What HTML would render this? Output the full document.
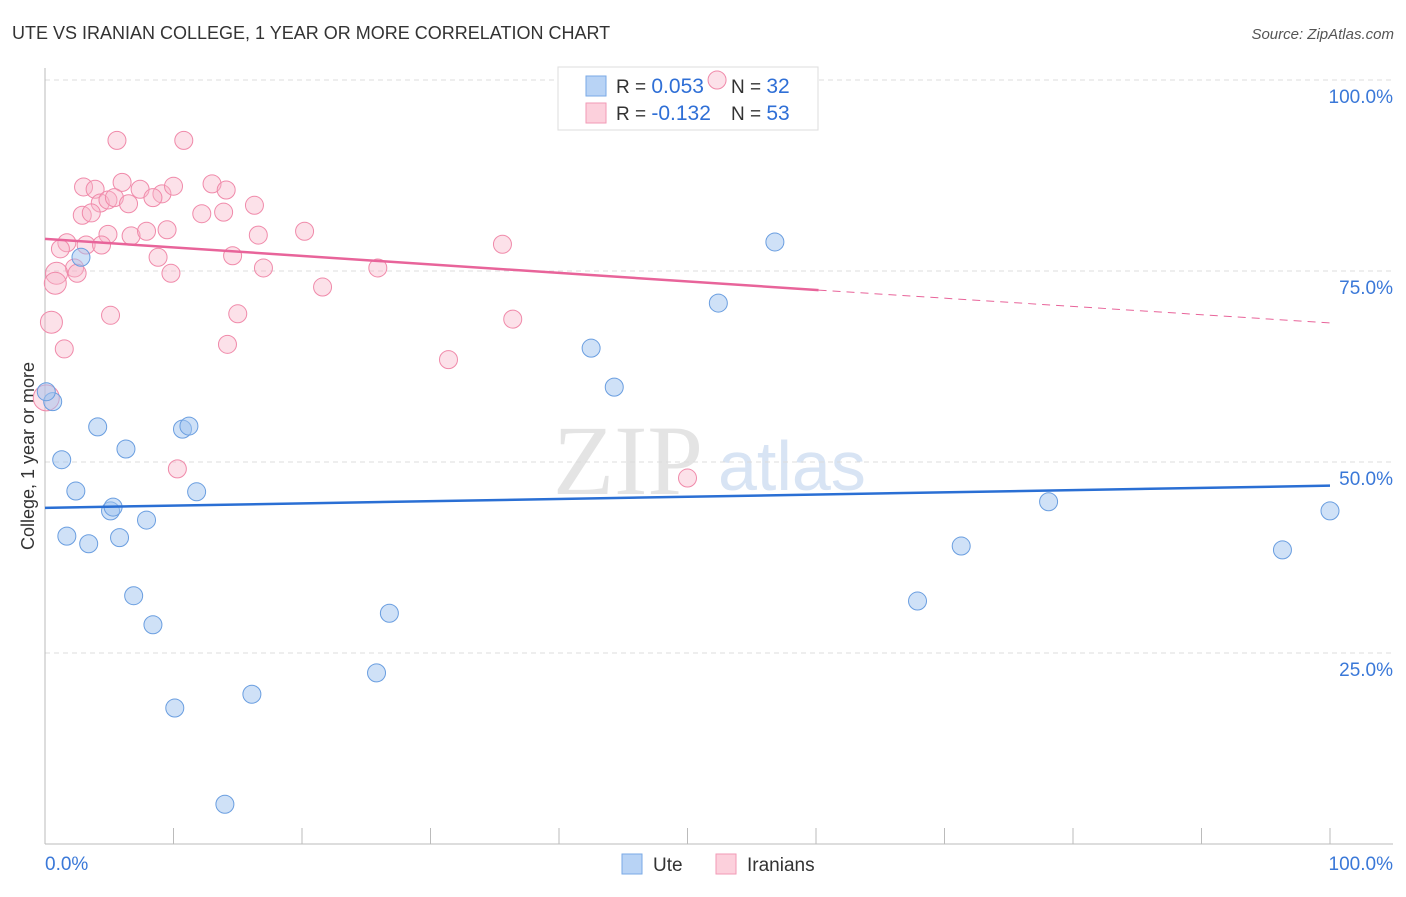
<!DOCTYPE html>
<html><head><meta charset="utf-8"><style>
body{margin:0;background:#fff;font-family:"Liberation Sans",sans-serif;}
</style></head><body>
<svg width="1406" height="892" xmlns="http://www.w3.org/2000/svg" id="chart" style="font-family:'Liberation Sans',sans-serif">
<text x="12" y="39" font-size="18" fill="#333">UTE VS IRANIAN COLLEGE, 1 YEAR OR MORE CORRELATION CHART</text>
<text x="1394" y="39" font-size="15" fill="#555" text-anchor="end" font-style="italic">Source: ZipAtlas.com</text>
<text x="34" y="456" font-size="18" fill="#333" text-anchor="middle" transform="rotate(-90 34 456)">College, 1 year or more</text>
<text x="553" y="494" font-size="100" fill="#e4e4e4" font-family="Liberation Serif,serif">ZIP</text>
<text x="718" y="490" font-size="70" fill="#d8e4f4">atlas</text>
<g id="grid"></g>
<g>
<rect x="558" y="67" width="260" height="63" fill="#fff" stroke="#ddd"/>
<rect x="586" y="76" width="20" height="20" fill="#b8d3f5" stroke="#7aaae6"/>
<rect x="586" y="103" width="20" height="20" fill="#fcd0dc" stroke="#f29ab6"/>
<text x="616" y="93" font-size="19" fill="#333">R = <tspan fill="#2f6fd6" font-size="21">0.053</tspan></text>
<text x="731" y="93" font-size="19" fill="#333">N = <tspan fill="#2f6fd6" font-size="21">32</tspan></text>
<text x="616" y="120" font-size="19" fill="#333">R = <tspan fill="#2f6fd6" font-size="21">-0.132</tspan></text>
<text x="731" y="120" font-size="19" fill="#333">N = <tspan fill="#2f6fd6" font-size="21">53</tspan></text>
</g>
<g id="marks"></g>
<g>
<rect x="622" y="854" width="20" height="20" fill="#b8d3f5" stroke="#7aaae6"/>
<text x="653" y="871" font-size="19" fill="#333">Ute</text>
<rect x="716" y="854" width="20" height="20" fill="#fcd0dc" stroke="#f29ab6"/>
<text x="747" y="871" font-size="19" fill="#333">Iranians</text>
</g>
</svg>
<script>
const yTicks=[25,50,75,100];
const yTickLabels=["25.0%","50.0%","75.0%","100.0%"];
const xTickLabels=["0.0%","100.0%"];
const uteX=[0.6,2.8,1.3,2.4,4.1,6.3,5.1,5.3,1.7,3.4,5.8,7.9,10.7,11.2,11.8,6.9,8.4,10.1,16.1,14.0,25.8,26.8,42.5,44.3,52.4,56.8,67.9,71.3,78.1,96.3,100,0.1];
const uteY=[57.9,76.8,50.3,46.2,54.6,51.7,43.6,44.1,40.3,39.3,40.1,42.4,54.3,54.7,46.1,32.5,28.7,17.8,19.6,5.2,22.4,30.2,64.9,59.8,70.8,78.8,31.8,39.0,44.8,38.5,43.6,59.2];
const iranX=[5.6,10.8,3.0,3.9,6.0,7.4,9.1,10.0,13.0,14.1,4.3,4.9,5.4,6.5,8.4,2.9,3.6,12.2,13.9,16.3,4.9,6.7,7.9,16.6,20.2,1.7,1.2,3.2,4.4,8.8,14.6,2.3,2.5,0.9,9.8,17.0,25.9,35.6,0.8,21.6,5.1,15.0,0.5,36.4,1.5,14.2,31.4,0.1,10.3,50.0,52.3,9.5];
const iranY=[92.1,92.1,86.0,85.7,86.6,85.7,85.1,86.1,86.4,85.6,83.9,84.3,84.6,83.8,84.6,82.3,82.6,82.5,82.7,83.6,79.8,79.6,80.2,79.7,80.2,78.7,77.9,78.4,78.4,76.8,77.0,75.4,74.7,74.7,74.7,75.4,75.4,78.5,73.4,72.9,69.2,69.4,68.3,68.7,64.8,65.4,63.4,58.4,49.1,47.9,100,80.4];
const uteTrend=[44.0,46.9];
const iranTrend=[79.2,72.5,68.2];
const iranTrendX=[0,60.2,100];
const NS="http://www.w3.org/2000/svg";
const sx=v=>45+v*12.85, sy=v=>844-v*7.64;
const grid=document.getElementById('grid'), marks=document.getElementById('marks');
function mk(tag,attrs,parent){const e=document.createElementNS(NS,tag);for(const k in attrs)e.setAttribute(k,attrs[k]);parent.appendChild(e);return e;}
yTicks.forEach((t,i)=>{
 const l=mk('line',{x1:45,x2:1393,y1:sy(t),y2:sy(t),stroke:'#ddd','stroke-dasharray':'5,4'},grid);
 
 
 const tx=mk('text',{x:1393,y:sy(t)+23,'font-size':19,fill:'#3a78d8','text-anchor':'end'},grid);
 tx.textContent=yTickLabels[i];
 
 
});
const ax=mk('line',{x1:45,x2:1393,y1:844,y2:844,stroke:'#bbb'},grid);


const ay=mk('line',{x1:45,x2:45,y1:68,y2:844,stroke:'#bbb'},grid);


for(let i=0;i<=10;i++){const t=mk('line',{x1:sx(i*10),x2:sx(i*10),y1:828,y2:844,stroke:'#bbb'},grid);
 
 }
const xl0=mk('text',{x:45,y:870,'font-size':19,fill:'#3a78d8'},grid);xl0.textContent=xTickLabels[0];


const xl1=mk('text',{x:1393,y:870,'font-size':19,fill:'#3a78d8','text-anchor':'end'},grid);xl1.textContent=xTickLabels[1];


iranX.forEach((x,i)=>{const r=(x<1.2&&iranY[i]<75)?(x<0.3?13:11):9;
 const c=mk('circle',{cx:sx(x),cy:sy(iranY[i]),r:r,fill:'rgba(248,180,200,0.4)',stroke:'#f08aaa','stroke-width':1},marks);
 
 });
uteX.forEach((x,i)=>{const c=mk('circle',{cx:sx(x),cy:sy(uteY[i]),r:9,fill:'rgba(160,196,240,0.5)',stroke:'#6a9ee0','stroke-width':1},marks);
 
 });
const ut=mk('line',{x1:sx(0),x2:sx(100),y1:sy(uteTrend[0]),y2:sy(uteTrend[1]),stroke:'#2a6fd4','stroke-width':2.5},marks);


const it=mk('line',{x1:sx(iranTrendX[0]),x2:sx(iranTrendX[1]),y1:sy(iranTrend[0]),y2:sy(iranTrend[1]),stroke:'#e8649a','stroke-width':2.5},marks);


const itd=mk('line',{x1:sx(iranTrendX[1]),x2:sx(iranTrendX[2]),y1:sy(iranTrend[1]),y2:sy(iranTrend[2]),stroke:'#e8649a','stroke-width':1,'stroke-dasharray':'8,6'},marks);


</script>
</body></html>
